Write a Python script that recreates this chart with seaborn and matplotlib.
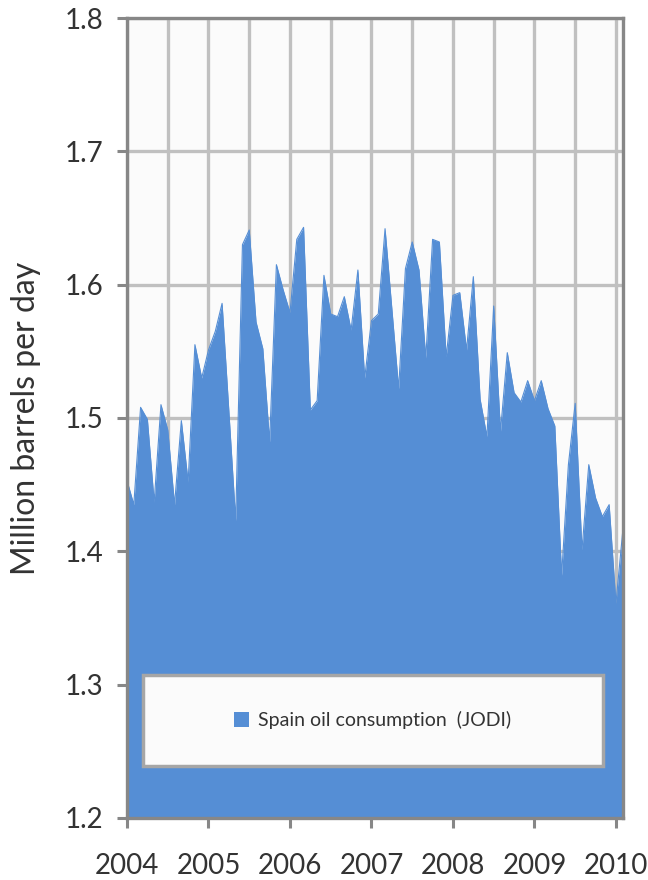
import numpy as np
import pandas as pd
import matplotlib
matplotlib.use("Agg")
import matplotlib.pyplot as plt
import seaborn as sns
from matplotlib.patches import Rectangle
from matplotlib.ticker import MultipleLocator, FixedLocator, FormatStrFormatter

# Monthly Spain oil consumption, Jan 2004 .. Feb 2010 (million barrels per day)
months = pd.date_range("2004-01-01", "2010-02-01", freq="MS")
consumption = [
    1.453, 1.435, 1.508, 1.499, 1.437, 1.510, 1.491, 1.435, 1.498, 1.452, 1.555, 1.530,  # 2004
    1.551, 1.565, 1.586, 1.505, 1.423, 1.630, 1.641, 1.572, 1.552, 1.482, 1.615, 1.596,  # 2005
    1.579, 1.634, 1.643, 1.506, 1.513, 1.607, 1.578, 1.576, 1.591, 1.566, 1.611, 1.530,  # 2006
    1.573, 1.578, 1.642, 1.582, 1.522, 1.612, 1.632, 1.611, 1.545, 1.634, 1.632, 1.546,  # 2007
    1.592, 1.594, 1.551, 1.606, 1.514, 1.486, 1.584, 1.490, 1.549, 1.519, 1.512, 1.528,  # 2008
    1.513, 1.528, 1.507, 1.494, 1.382, 1.465, 1.511, 1.401, 1.465, 1.440, 1.426, 1.435,  # 2009
    1.361, 1.415,  # 2010
]
year_ticks = [2004, 2005, 2006, 2007, 2008, 2009, 2010]
series_name = "Spain oil consumption  (JODI)"

df = pd.DataFrame({"month": months, "value": consumption})
df["x"] = df["month"].dt.year + (df["month"].dt.month - 1) / 12.0

sns.set_theme(style="white")
plt.rcParams["font.family"] = ["Lato", "DejaVu Sans"]

blue = "#558ed5"
grid_c = "#c0c0c0"
axis_c = "#878787"
text_c = "#333333"

fig = plt.figure(figsize=(6.48, 8.8), dpi=100)
ax = fig.add_axes([0.196, 0.0705, 0.765, 0.909])
ax.set_facecolor("#fbfbfb")

sns.lineplot(data=df, x="x", y="value", ax=ax, color=blue, linewidth=0.8, zorder=3)
ax.fill_between(df["x"], 1.2, df["value"], color=blue, linewidth=0, zorder=2,
                label=series_name)

ax.set_xlim(2004, 2010 + 1 / 12)
ax.set_ylim(1.2, 1.8)
ax.xaxis.set_major_locator(FixedLocator(year_ticks))
ax.xaxis.set_minor_locator(MultipleLocator(0.5))
ax.yaxis.set_major_locator(MultipleLocator(0.1))
ax.set_xticklabels([str(y) for y in year_ticks])
ax.yaxis.set_major_formatter(FormatStrFormatter("%.1f"))

ax.grid(True, which="major", color=grid_c, linewidth=2.4, zorder=0)
ax.grid(True, which="minor", axis="x", color=grid_c, linewidth=2.4, zorder=0)
ax.set_axisbelow(True)

for s in ax.spines.values():
    s.set_color(axis_c)
    s.set_linewidth(2.4)
    s.set_zorder(4)

ax.tick_params(axis="both", which="major", direction="out", length=7, width=2.2,
               color=axis_c, labelcolor=text_c, labelsize=20)
ax.tick_params(axis="x", which="major", pad=18, bottom=True)
ax.tick_params(axis="y", which="major", pad=10, left=True)
ax.tick_params(axis="x", which="minor", length=0)

ax.set_xlabel("")
ax.set_ylabel("Million barrels per day", fontsize=23, color=text_c, labelpad=17)

# legend box drawn as a patch, entry centred inside it
box = Rectangle((0.032, 0.065), 0.928, 0.114, transform=ax.transAxes,
                facecolor="#fbfbfb", edgecolor="#a6a6a6", linewidth=2.5, zorder=5)
ax.add_patch(box)
leg = ax.legend(loc="center", bbox_to_anchor=(0.496, 0.122), fontsize=14,
                frameon=False, handlelength=0.75, handleheight=0.75,
                handletextpad=0.5, labelcolor=text_c)
leg.set_zorder(6)

fig.savefig("out.png", dpi=100, facecolor="white")
